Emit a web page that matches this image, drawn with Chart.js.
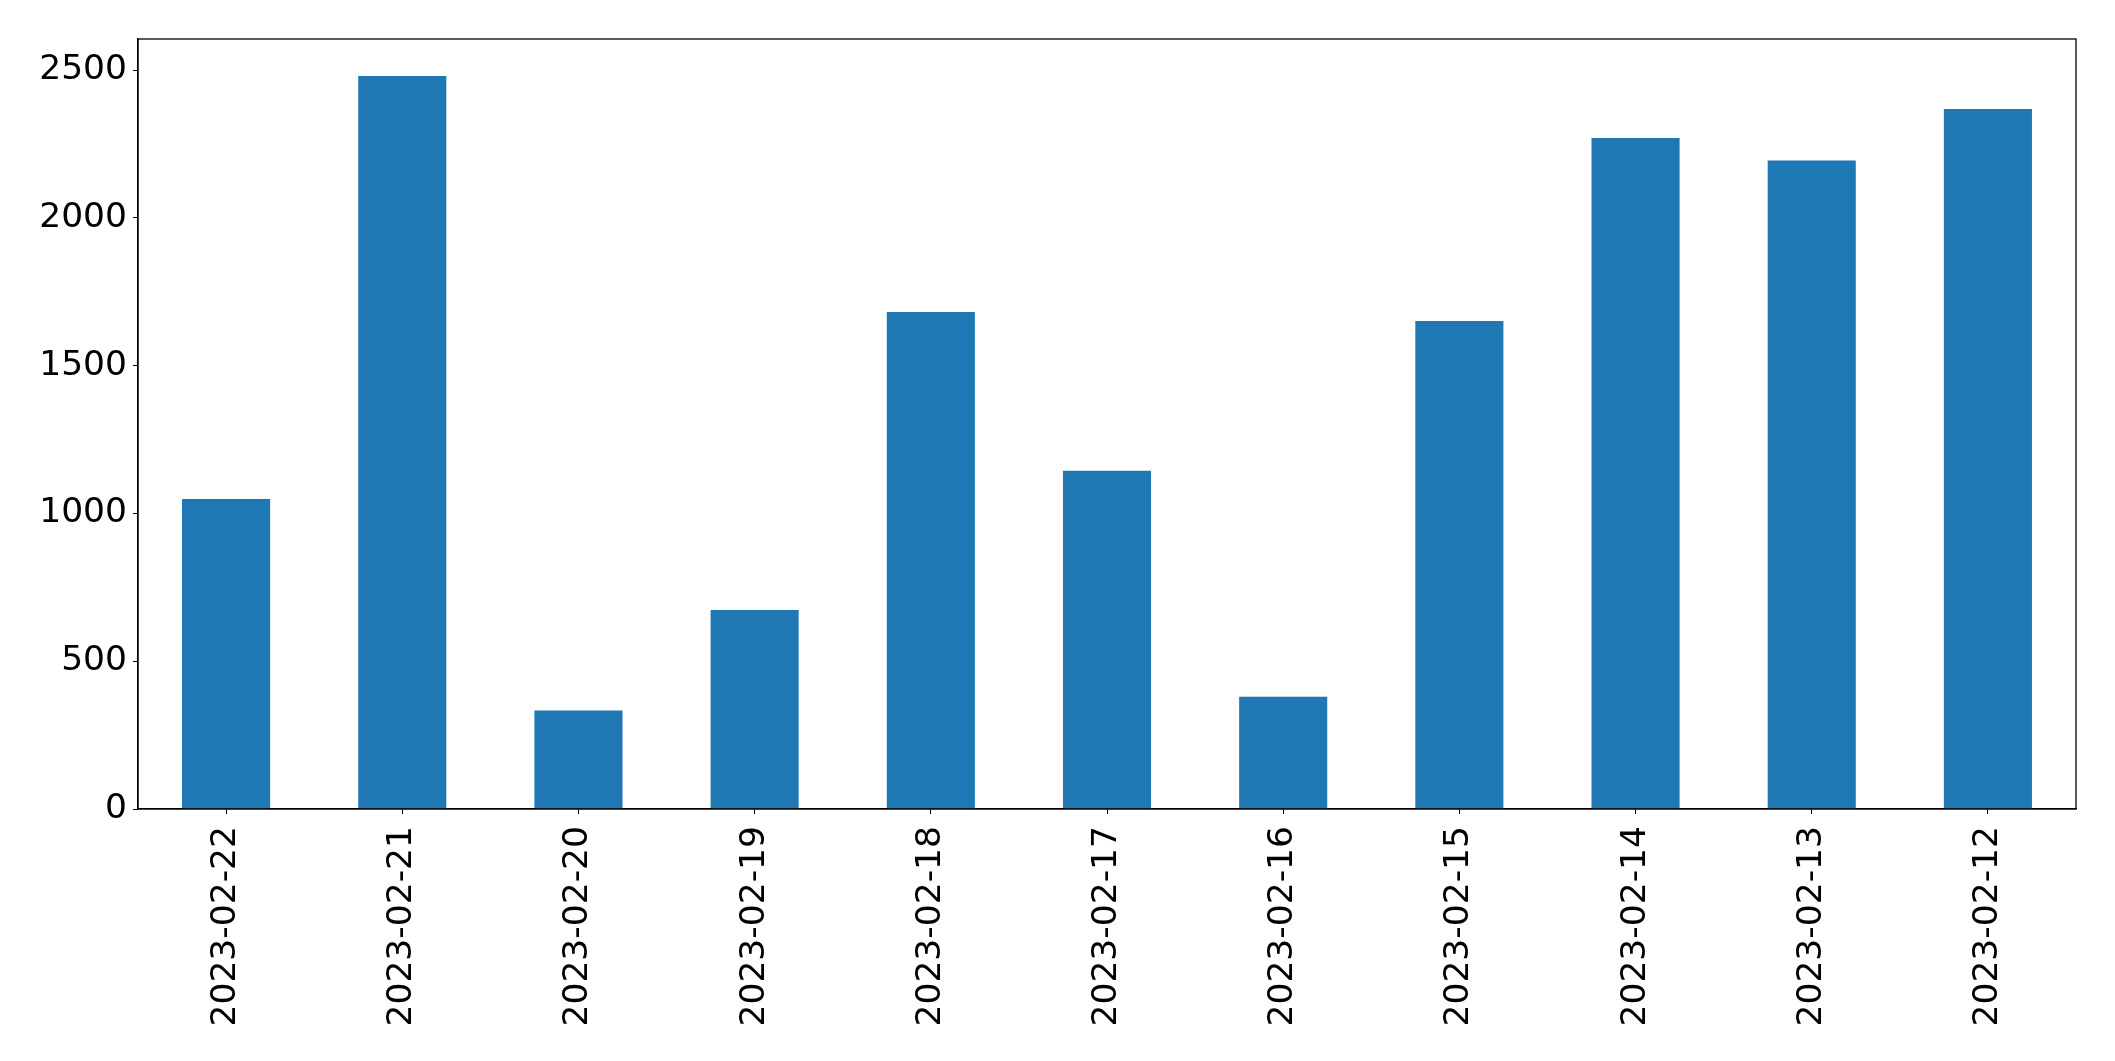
<!DOCTYPE html>
<html>
<head>
<meta charset="utf-8">
<script src="https://cdn.jsdelivr.net/npm/chart.js@4/dist/chart.umd.min.js"></script>
<style>
    html, body { margin: 0; padding: 0; background: #ffffff; }
    #wrap { width: 2115px; height: 1061px; }
</style>
</head>
<body>
<div id="wrap"><canvas id="barChart" width="2115" height="1061"></canvas></div>
<script>
const dates = ['2023-02-22', '2023-02-21', '2023-02-20', '2023-02-19', '2023-02-18', '2023-02-17',
               '2023-02-16', '2023-02-15', '2023-02-14', '2023-02-13', '2023-02-12'];
const values = [1049, 2480, 333, 673, 1681, 1144, 380, 1651, 2270, 2194, 2368];
const yTicks = [0, 500, 1000, 1500, 2000, 2500];
const yMax = 2605;

// box round the plot area, like matplotlib's spines
const frame = {
    id: 'frame',
    afterDraw(chart) {
        const a = chart.chartArea;
        const ctx = chart.ctx;
        ctx.save();
        ctx.strokeStyle = '#000000';
        ctx.lineWidth = 1.3;
        ctx.strokeRect(a.left, a.top, a.right - a.left, a.bottom - a.top);
        ctx.restore();
    }
};

document.addEventListener('DOMContentLoaded', function() {
    const ctx = document.getElementById('barChart').getContext('2d');
    new Chart(ctx, {
        type: 'bar',
        data: {
            labels: dates,
            datasets: [{
                data: values,
                backgroundColor: '#1f77b4',
                borderWidth: 0,
                categoryPercentage: 1.0,
                barPercentage: 0.5
            }]
        },
        options: {
            responsive: false,
            animation: false,
            layout: { padding: { top: 39, right: 39, left: 0, bottom: 0 } },
            plugins: {
                legend: { display: false },
                tooltip: { enabled: false }
            },
            scales: {
                x: {
                    grid: { display: true, offset: false, drawOnChartArea: false, drawTicks: true, tickLength: 5, color: '#000000' },
                    border: { display: true, color: '#000000', width: 1.3 },
                    ticks: {
                        color: '#000000',
                        font: { family: 'DejaVu Sans', size: 34.5 },
                        minRotation: 90,
                        maxRotation: 90,
                        autoSkip: false,
                        padding: 12
                    },
                    afterFit(scale) { scale.height = 252; }
                },
                y: {
                    min: 0,
                    max: yMax,
                    grid: { display: true, drawOnChartArea: false, drawTicks: true, tickLength: 5, color: '#000000' },
                    border: { display: true, color: '#000000', width: 1.3 },
                    ticks: {
                        color: '#000000',
                        font: { family: 'DejaVu Sans', size: 34.5 },
                        padding: 6,
                        callback: value => String(value)
                    },
                    afterBuildTicks(scale) {
                        scale.ticks = yTicks.map(v => ({ value: v }));
                    },
                    afterFit(scale) { scale.width = 138; }
                }
            }
        },
        plugins: [frame]
    });
});
</script>
</body>
</html>
